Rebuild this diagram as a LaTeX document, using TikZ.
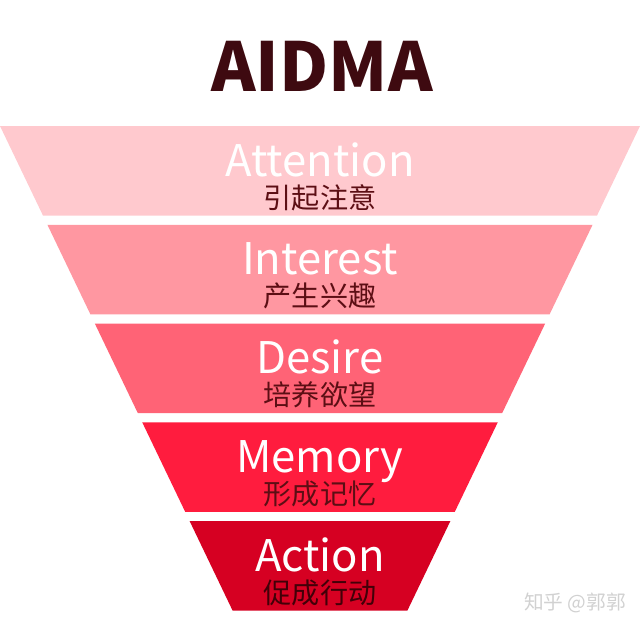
\documentclass[tikz,border=0pt]{standalone}
\usepackage{fontspec}
\newfontfamily\cjk{Noto Sans CJK SC}
\usetikzlibrary{positioning}

\definecolor{layerA}{RGB}{255,201,206}
\definecolor{layerB}{RGB}{255,151,161}
\definecolor{layerC}{RGB}{255,99,118}
\definecolor{layerD}{RGB}{255,28,62}
\definecolor{layerE}{RGB}{214,0,34}
\definecolor{maroon}{RGB}{62,10,16}
\definecolor{zhred}{RGB}{92,14,20}
\definecolor{zhdark}{RGB}{66,0,8}

\tikzset{
    title/.style={anchor=base, inner sep=0pt, text=maroon, font=\cjk\bfseries\fontsize{48}{48}\selectfont},
    entext/.style={anchor=base, inner sep=0pt, text=white, font=\cjk\fontsize{31}{31}\selectfont},
    zhtext/.style={anchor=base, inner sep=0pt, font=\cjk\fontsize{20}{20}\selectfont},
    mark text/.style={anchor=base, inner sep=0pt, text=black!18, font=\cjk\fontsize{14}{14}\selectfont}
}

\begin{document}
\begin{tikzpicture}[x=0.025cm,y=-0.025cm]
    \useasboundingbox (0,0) rectangle (640,640);

    % title
    \node[title] (aidma) at (322,91) {AIDMA};

    % funnel: one layer per step, left edge x = 0.48*(y-126)
    \foreach \i/\en/\zh/\col/\zhcol in {0/Attention/引起注意/layerA/zhred,
                                        1/Interest/产生兴趣/layerB/zhred,
                                        2/Desire/培养欲望/layerC/zhred,
                                        3/Memory/形成记忆/layerD/zhred,
                                        4/Action/促成行动/layerE/zhdark} {
        \pgfmathsetmacro\yt{126+98.75*\i}
        \pgfmathsetmacro\yb{\yt+89.5}
        \pgfmathsetmacro\xt{0.48*(\yt-126)}
        \pgfmathsetmacro\xb{0.48*(\yb-126)}
        \fill[\col] (\xt,\yt) -- (640-\xt,\yt) -- (640-\xb,\yb) -- (\xb,\yb) -- cycle;
        \node[entext] (en\i) at (320,\yt+50) {\en};
        \node[zhtext, text=\zhcol] (zh\i) at (320,\yt+82) {\zh};
    }

    % watermark
    \node[mark text] (zhihu) at (575,609) {知乎 @郭郭};
\end{tikzpicture}
\end{document}
